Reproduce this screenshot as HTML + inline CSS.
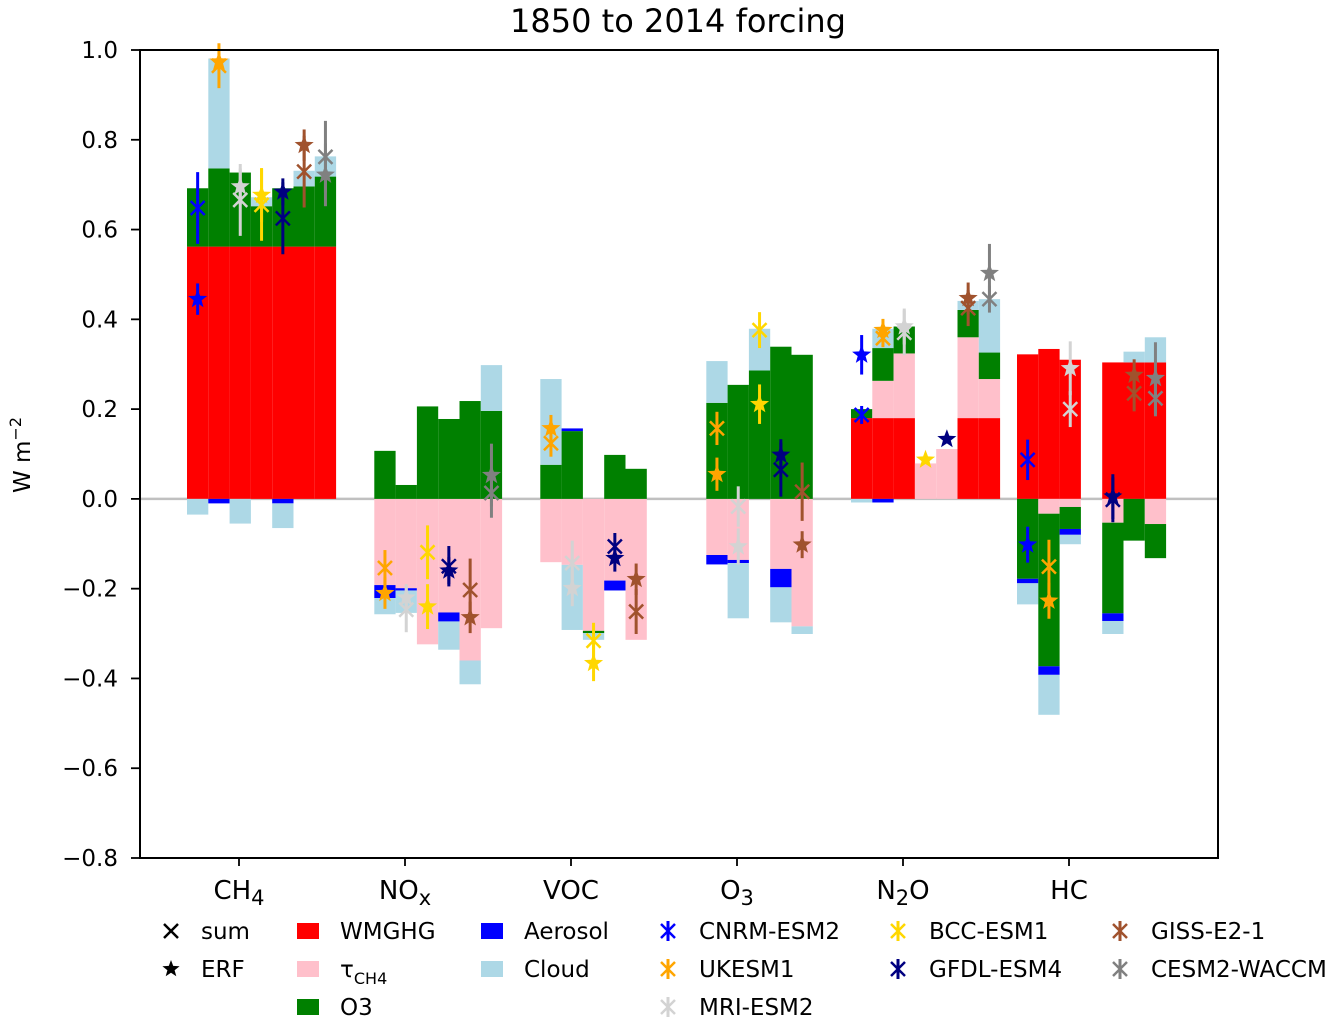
<!DOCTYPE html>
<html><head><meta charset="utf-8">
<style>
html,body{margin:0;padding:0;background:#fff;}
svg{display:block;font-family:"DejaVu Sans","Liberation Sans",sans-serif;}
</style></head>
<body>
<svg id="chart" width="1332" height="1022" viewBox="0 0 1332 1022" xmlns="http://www.w3.org/2000/svg">
<text x="678" y="32" font-size="32" text-anchor="middle">1850 to 2014 forcing</text>
<text transform="translate(30,455) rotate(-90)" font-size="23" text-anchor="middle">W m<tspan dy="-9" font-size="16">−2</tspan></text>
<g id="plot"></g>
<g id="legend"></g>
</svg>
<script>
const groups = ["CH4","NOx","VOC","O3","N2O","HC"];
const models = ["CNRM-ESM2","UKESM1","MRI-ESM2","BCC-ESM1","GFDL-ESM4","GISS-E2-1","CESM2-WACCM"];
const yTicks = [-0.8,-0.6,-0.4,-0.2,0.0,0.2,0.4,0.6,0.8,1.0];
const N = null;
const wmghg = [
 [.562,.562,.562,.562,.562,.562,.562],
 [N,0,0,0,0,0,0],
 [N,0,0,0,0,0,N],
 [N,0,0,0,0,0,N],
 [.18,.18,.18,0,0,.18,.18],
 [.322,.334,.31,N,.304,.304,.304]];
const tau = [
 [0,0,0,0,0,0,0],
 [N,-.192,-.199,-.324,-.253,-.36,-.288],
 [N,-.141,-.147,-.294,-.182,-.314,N],
 [N,-.125,-.136,0,-.156,-.284,N],
 [0,.083,.144,.079,.111,.18,.087],
 [0,-.033,-.018,N,-.053,0,-.056]];
const ozone = [
 [.13,.174,.165,.09,.13,.134,.156],
 [N,.107,.031,.206,.178,.218,.196],
 [N,.076,.151,-.005,.098,.067,N],
 [N,.214,.254,.286,.339,.321,N],
 [.02,.073,.06,0,0,.061,.059],
 [-.178,-.34,-.049,N,-.202,-.093,-.076]];
const aerosol = [
 [0,-.01,0,0,-.01,0,0],
 [N,-.029,-.005,0,-.02,0,0],
 [N,0,.006,0,-.022,0,N],
 [N,-.021,-.007,0,-.041,0,N],
 [0,-.008,0,0,0,0,0],
 [-.01,-.019,-.013,N,-.017,0,0]];
const cloud = [
 [-.035,.245,-.055,.02,-.055,.035,.045],
 [N,-.036,-.05,0,-.063,-.053,.102],
 [N,.191,-.145,-.015,0,0,N],
 [N,.093,-.123,.093,-.078,-.017,N],
 [-.008,.043,0,0,0,.02,.119],
 [-.047,-.089,-.021,N,-.029,.024,.056]];
const sumVal = [
 [.648,.965,.666,.655,.625,.729,.762],
 [N,-.154,-.247,-.119,-.15,-.203,.013],
 [N,.124,-.143,-.316,-.106,-.251,N],
 [N,.157,-.017,.376,.065,.016,N],
 [.187,.358,.37,N,N,.425,.445],
 [.087,-.151,.2,N,-.002,.235,.224]];
const sumErr = [
 [.08,.05,.08,.08,.08,.08,.08],
 [0,.04,.05,.06,.045,.07,.055],
 [0,.03,.05,.04,.03,.05,0],
 [0,.037,.045,.04,.06,.065,0],
 [.02,.02,.05,0,0,.04,.03],
 [.045,.06,.04,0,.05,.04,.04]];
const erfVal = [
 [.445,.974,.696,.677,.684,.788,.722],
 [N,-.21,-.22,-.24,-.16,-.264,.053],
 [N,.157,-.199,-.366,-.132,-.179,N],
 [N,.055,-.106,.211,.098,-.102,N],
 [.321,.376,.384,.087,.133,.447,.503],
 [-.102,-.227,.291,N,.005,.276,.269]];
const erfErr = [
 [.035,.02,.04,.06,.03,.035,.07],
 [0,.035,.03,.05,.03,.035,.07],
 [0,.03,.04,.04,.03,.035,0],
 [0,.037,.04,.044,.035,.03,0],
 [.044,.025,.04,0,0,.035,.065],
 [.04,.04,.06,0,.05,.035,.08]];

const compColors = ["#ff0000","#ffc0cb","#008000","#0000ff","#add8e6"];
const modelColors = ["#0000ff","#ffa500","#d3d3d3","#ffd700","#000080","#a0522d","#808080"];
const NS="http://www.w3.org/2000/svg";
const plot=document.getElementById('plot');
const L=140,R=1218,T=50,B=858, yMin=-0.8, yMax=1.0;
function yS(v){return B-(v-yMin)/(yMax-yMin)*(B-T);}
const slotW=21.3, groupW=166, x0=187;
function xS(g,i){return x0+g*groupW+i*slotW;}
function el(tag,attrs,parent){const e=document.createElementNS(NS,tag);for(const k in attrs)e.setAttribute(k,attrs[k]);(parent||plot).appendChild(e);return e;}

const zl=el('line',{x1:L,x2:R,y1:yS(0),y2:yS(0),stroke:'#c0c0c0','stroke-width':2.5});



const comps=[wmghg,tau,ozone,aerosol,cloud];
const compNames=['wmghg','tau-ch4','o3','aerosol','cloud'];
for(let g=0;g<groups.length;g++){
 for(let i=0;i<7;i++){
  let pos=0,neg=0;
  for(let c=0;c<5;c++){
   const v=comps[c][g][i];
   if(v===null||v===0)continue;
   let ya,yb;
   if(v>0){ya=yS(pos+v);yb=yS(pos);pos+=v;}else{ya=yS(neg);yb=yS(neg+v);neg+=v;}
   const r=el('rect',{x:xS(g,i),y:ya,width:slotW,height:Math.max(0.5,yb-ya),fill:compColors[c]});
   
   
  }
 }
}
function star(cx,cy,r,color){
 let pts=[];
 for(let k=0;k<10;k++){const a=-Math.PI/2+k*Math.PI/5;const rr=k%2?r*0.42:r;pts.push((cx+rr*Math.cos(a)).toFixed(1)+','+(cy+rr*Math.sin(a)).toFixed(1));}
 return el('polygon',{points:pts.join(' '),fill:color});
}
function xmark(cx,cy,s,color,w,parent){
 const g=el('g',{},parent);
 el('line',{x1:cx-s,y1:cy-s,x2:cx+s,y2:cy+s,stroke:color,'stroke-width':w},g);
 el('line',{x1:cx-s,y1:cy+s,x2:cx+s,y2:cy-s,stroke:color,'stroke-width':w},g);
 return g;
}
for(let g=0;g<groups.length;g++){
 for(let i=0;i<7;i++){
  const cx=xS(g,i)+slotW/2, col=modelColors[i];
  const sv=sumVal[g][i], ev=erfVal[g][i];
  if(sv!==null){
   const e=sumErr[g][i];
   if(e>0){const ln=el('line',{x1:cx,x2:cx,y1:yS(sv+e),y2:yS(sv-e),stroke:col,'stroke-width':3});
    
    }
   const m=xmark(cx,yS(sv),7,col,2.5);
   
   
  }
  if(ev!==null){
   const e=erfErr[g][i];
   if(e>0){const ln=el('line',{x1:cx,x2:cx,y1:yS(ev+e),y2:yS(ev-e),stroke:col,'stroke-width':3});
    
    }
   const s=star(cx,yS(ev),10,col);
   
   
  }
 }
}
const fr=el('rect',{x:L,y:T,width:R-L,height:B-T,fill:'none',stroke:'#000','stroke-width':2});


for(const t of yTicks){
 const y=yS(t);
 el('line',{x1:L-9,x2:L,y1:y,y2:y,stroke:'#000','stroke-width':1.8});
 const tx=el('text',{x:118,y:y+8,'font-size':23,'text-anchor':'end'});
 tx.textContent=(t<0?'−':'')+Math.abs(t).toFixed(1);
 
 
}
const xLabels=[['CH','4'],['NO','x'],['VOC',''],['O','3'],['N','2','O'],['HC','']];
for(let g=0;g<groups.length;g++){
 const x=x0+g*groupW+52;
 el('line',{x1:x,x2:x,y1:B,y2:B+8,stroke:'#000','stroke-width':1.8});
 const tx=el('text',{x:x,y:B+41,'font-size':26,'text-anchor':'middle'});
 
 
 const p=xLabels[g];
 let html=p[0];
 if(p[1])html+='<tspan dy="6" font-size="21">'+p[1]+'</tspan>';
 if(p[2])html+='<tspan dy="-6">'+p[2]+'</tspan>';
 tx.innerHTML=html;
}
const lg=document.getElementById('legend');
const rows=[931,969,1007];
function ltext(x,y,html,name){const t=el('text',{x:x,y:y+8,'font-size':23},lg);t.innerHTML=html;
 
 }
xmark(171,rows[0],7,'#000',2.5,lg);
ltext(201,rows[0],'sum','legend-sum');
const ls=star(171,rows[1],9,'#000');lg.appendChild(ls);
ltext(201,rows[1],'ERF','legend-erf');
const patches=[[297,0,0,'WMGHG'],[297,1,1,'τ<tspan dy="7" font-size="16">CH4</tspan>'],[297,2,2,'O3'],[481,0,3,'Aerosol'],[481,1,4,'Cloud']];
for(const p of patches){
 const r=el('rect',{x:p[0],y:rows[p[1]]-8,width:22,height:16,fill:compColors[p[2]]},lg);
 
 
 ltext(p[0]+43,rows[p[1]],p[3],'legend-'+compNames[p[2]]);
}
const modelPos=[[668,0],[668,1],[668,2],[898,0],[898,1],[1120,0],[1120,1]];
const modelLegendOrder=[0,1,2,3,4,5,6];
for(const i of modelLegendOrder){
 const [x,r]=modelPos[i];const y=rows[r];const col=modelColors[i];
 el('line',{x1:x,x2:x,y1:y-10,y2:y+10,stroke:col,'stroke-width':3},lg);
 xmark(x,y,7,col,2.5,lg);
 ltext(x+31,y,models[i],'legend-'+models[i].toLowerCase());
}
</script>
</body></html>
